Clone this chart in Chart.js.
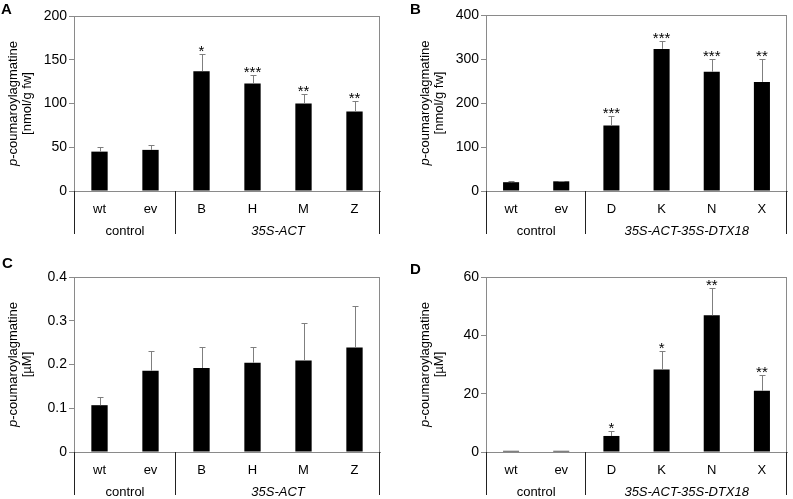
<!DOCTYPE html>
<html>
<head>
<meta charset="utf-8">
<script src="https://cdn.jsdelivr.net/npm/chart.js@4.4.1/dist/chart.umd.min.js"></script>
<style>
    html, body { margin: 0; padding: 0; background: #fff; }
    #wrap { position: relative; width: 793px; height: 499px; overflow: hidden; }
    .panel { position: absolute; }
</style>
</head>
<body>
<div id="wrap">
    <div class="panel" style="left:0;top:0"><canvas id="chartA" width="396" height="250"></canvas></div>
    <div class="panel" style="left:396px;top:0"><canvas id="chartB" width="397" height="250"></canvas></div>
    <div class="panel" style="left:0;top:250px"><canvas id="chartC" width="396" height="249"></canvas></div>
    <div class="panel" style="left:396px;top:250px"><canvas id="chartD" width="397" height="249"></canvas></div>
</div>
<script>
// categorias
const linesACT = ['wt', 'ev', 'B', 'H', 'M', 'Z'];
const linesDTX = ['wt', 'ev', 'D', 'K', 'N', 'X'];
const groupsACT = ['control', '35S-ACT'];
const groupsDTX = ['control', '35S-ACT-35S-DTX18'];
const groupSizes = [2, 4];

// A: hojas, nmol/g fw
const meanA = [45, 47, 137, 123, 100, 91];
const sdA = [5.5, 6, 20, 9.5, 11, 11.5];
const starsA = ['', '', '*', '***', '**', '**'];
const ticksA = { max: 200, step: 50 };

// B
const meanB = [20, 22, 149, 323, 271, 248];
const sdB = [3, 1.5, 21, 18, 28, 53];
const starsB = ['', '', '***', '***', '***', '**'];
const ticksB = { max: 400, step: 100 };

// C: exudado, µM
const meanC = [0.107, 0.186, 0.192, 0.204, 0.209, 0.239];
const sdC = [0.019, 0.045, 0.049, 0.035, 0.087, 0.094];
const starsC = ['', '', '', '', '', ''];
const ticksC = { max: 0.4, step: 0.1 };

// D
const meanD = [0.4, 0.4, 5.5, 28.3, 46.9, 21];
const sdD = [0, 0, 1.7, 6.3, 9.3, 5.4];
const starsD = ['', '', '*', '*', '**', '**'];
const ticksD = { max: 60, step: 20 };

const FONT = "'Liberation Sans', Arial, sans-serif";
const AXIS_GRAY = '#8a8a8a';
const Y_AXIS_W = 40;
const X_AXIS_H = 30;

Chart.defaults.font.family = FONT;
Chart.defaults.font.size = 13;
Chart.defaults.color = '#000';

// Barras de error, asteriscos, marco y etiquetas de grupo
const panelDecor = {
    id: 'panelDecor',
    afterDatasetsDraw(chart, args, opts) {
        const ctx = chart.ctx;
        const meta = chart.getDatasetMeta(0);
        const y = chart.scales.y;
        ctx.save();
        meta.data.forEach((bar, i) => {
            const sd = opts.sd[i];
            let topY = bar.y;
            if (sd > 0) {
                topY = y.getPixelForValue(opts.mean[i] + sd);
                ctx.strokeStyle = '#7f7f7f';
                ctx.lineWidth = 1;
                const x = Math.round(bar.x) + 0.5;
                ctx.beginPath();
                ctx.moveTo(x, bar.y);
                ctx.lineTo(x, Math.round(topY) + 0.5);
                ctx.moveTo(x - 3, Math.round(topY) + 0.5);
                ctx.lineTo(x + 3, Math.round(topY) + 0.5);
                ctx.stroke();
            }
            if (opts.stars[i]) {
                ctx.fillStyle = '#000';
                ctx.font = '15px ' + FONT;
                ctx.textAlign = 'center';
                ctx.textBaseline = 'alphabetic';
                ctx.fillText(opts.stars[i], bar.x, topY + 2);
            }
        });
        ctx.restore();
    },
    afterDraw(chart, args, opts) {
        const ctx = chart.ctx;
        const a = chart.chartArea;
        const xs = chart.scales.x;
        ctx.save();

        // marco superior y derecho
        ctx.strokeStyle = AXIS_GRAY;
        ctx.lineWidth = 1;
        ctx.beginPath();
        ctx.moveTo(a.left, Math.round(a.top) + 0.5);
        ctx.lineTo(a.right, Math.round(a.top) + 0.5);
        ctx.moveTo(Math.round(a.right) - 0.5, a.top);
        ctx.lineTo(Math.round(a.right) - 0.5, a.bottom);
        ctx.stroke();

        // separadores de grupo bajo el eje
        const catW = (a.right - a.left) / xs.ticks.length;
        const lineBottom = Math.min(a.bottom + 43, chart.height);
        ctx.strokeStyle = '#222';
        ctx.beginPath();
        let start = 0;
        const bounds = [0];
        opts.groupSizes.forEach(n => { start += n; bounds.push(start); });
        bounds.forEach(b => {
            let x = Math.round(a.left + b * catW);
            x = b === 0 ? x + 0.5 : x - 0.5;
            ctx.moveTo(x, a.bottom);
            ctx.lineTo(x, lineBottom);
        });
        ctx.stroke();

        ctx.fillStyle = '#000';
        ctx.textAlign = 'center';
        ctx.textBaseline = 'middle';
        opts.groups.forEach((g, k) => {
            const cx = a.left + (bounds[k] + bounds[k + 1]) / 2 * catW;
            ctx.font = (k === 0 ? '' : 'italic ') + '13px ' + FONT;
            ctx.fillText(g, cx, a.bottom + 40);
        });

        // titulo del eje y, dos lineas
        const cy = (a.top + a.bottom) / 2;
        ctx.save();
        ctx.translate(a.left - 61, cy);
        ctx.rotate(-Math.PI / 2);
        ctx.textBaseline = 'middle';
        ctx.textAlign = 'left';
        ctx.font = 'italic 13px ' + FONT;
        const wp = ctx.measureText('p').width;
        ctx.font = '13px ' + FONT;
        const wr = ctx.measureText('-coumaroylagmatine').width;
        let x0 = -(wp + wr) / 2;
        ctx.font = 'italic 13px ' + FONT;
        ctx.fillText('p', x0, 0);
        ctx.font = '13px ' + FONT;
        ctx.fillText('-coumaroylagmatine', x0 + wp, 0);
        ctx.textAlign = 'center';
        ctx.fillText(opts.unit, 0, 14);
        ctx.restore();

        // letra del panel
        ctx.font = 'bold 15px ' + FONT;
        ctx.textAlign = 'left';
        ctx.textBaseline = 'top';
        ctx.fillText(opts.letter, opts.letterX, opts.letterY);
        ctx.restore();
    }
};

function initPanel(canvasId, cfg) {
    const canvas = document.getElementById(canvasId);
    const W = canvas.width, H = canvas.height;
    const area = cfg.area;

    return new Chart(canvas, {
        type: 'bar',
        data: {
            labels: cfg.labels,
            datasets: [{
                data: cfg.mean,
                backgroundColor: '#000',
                borderWidth: 0,
                barPercentage: 0.32,
                categoryPercentage: 1
            }]
        },
        options: {
            responsive: false,
            animation: false,
            layout: {
                padding: {
                    left: area.l - Y_AXIS_W,
                    right: W - area.r,
                    top: area.t,
                    bottom: H - area.b - X_AXIS_H
                }
            },
            plugins: {
                legend: { display: false },
                tooltip: { enabled: false },
                panelDecor: {
                    mean: cfg.mean,
                    sd: cfg.sd,
                    stars: cfg.stars,
                    groups: cfg.groups,
                    groupSizes: groupSizes,
                    unit: cfg.unit,
                    letter: cfg.letter,
                    letterX: cfg.letterX,
                    letterY: cfg.letterY
                }
            },
            scales: {
                x: {
                    grid: { display: false },
                    border: { display: true, color: AXIS_GRAY },
                    ticks: { padding: 3, font: { size: 13 }, color: '#000' },
                    afterFit(scale) { scale.height = X_AXIS_H; }
                },
                y: {
                    min: 0,
                    max: cfg.ticks.max,
                    ticks: { stepSize: cfg.ticks.step, padding: 2, font: { size: 14 }, color: '#000' },
                    grid: { drawOnChartArea: false, tickLength: 5, color: AXIS_GRAY },
                    border: { display: true, color: AXIS_GRAY },
                    afterFit(scale) { scale.width = Y_AXIS_W; }
                }
            }
        },
        plugins: [panelDecor]
    });
}

initPanel('chartA', {
    labels: linesACT, mean: meanA, sd: sdA, stars: starsA, groups: groupsACT,
    ticks: ticksA, unit: '[nmol/g fw]', letter: 'A', letterX: 1, letterY: 2,
    area: { l: 74, r: 380, t: 16, b: 191 }
});
initPanel('chartB', {
    labels: linesDTX, mean: meanB, sd: sdB, stars: starsB, groups: groupsDTX,
    ticks: ticksB, unit: '[nmol/g fw]', letter: 'B', letterX: 14, letterY: 2,
    area: { l: 90, r: 391, t: 15, b: 191 }
});
initPanel('chartC', {
    labels: linesACT, mean: meanC, sd: sdC, stars: starsC, groups: groupsACT,
    ticks: ticksC, unit: '[µM]', letter: 'C', letterX: 2, letterY: 6,
    area: { l: 74, r: 380, t: 27, b: 202 }
});
initPanel('chartD', {
    labels: linesDTX, mean: meanD, sd: sdD, stars: starsD, groups: groupsDTX,
    ticks: ticksD, unit: '[µM]', letter: 'D', letterX: 14, letterY: 12,
    area: { l: 90, r: 391, t: 27, b: 202 }
});
</script>
</body>
</html>
